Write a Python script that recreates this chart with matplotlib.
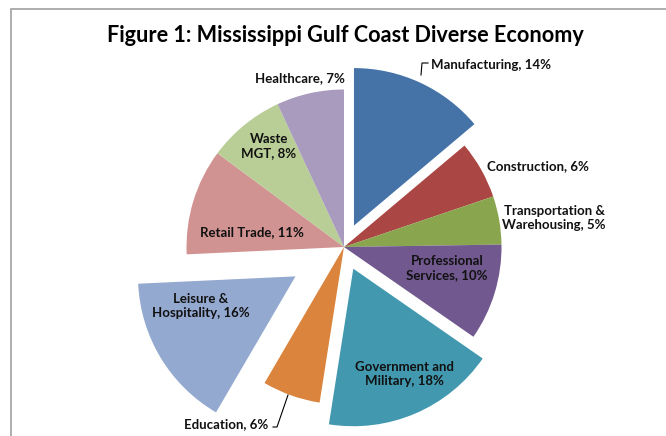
import matplotlib
matplotlib.use("Agg")
import matplotlib.pyplot as plt
from matplotlib.patches import Rectangle

categories = ["Manufacturing", "Construction", "Transportation &\nWarehousing",
              "Professional\nServices", "Government and\nMilitary", "Education",
              "Leisure &\nHospitality", "Retail Trade", "Waste\nMGT", "Healthcare"]
values = [14, 6, 5, 10, 18, 6, 16, 11, 8, 7]
explode = [0.15, 0, 0, 0, 0.15, 0, 0.36, 0, 0, 0]
colors = ["#4572A7", "#AA4643", "#89A54E", "#71588F", "#4198AF",
          "#DB843D", "#93A9CF", "#D19392", "#B9CD96", "#A99BBD"]
title = "Figure 1: Mississippi Gulf Coast Diverse Economy"

W, H = 666, 436
CX, CY, R = 344, 247, 157.5

def px(x, y):
    return ((x - CX) / R, (CY - y) / R)

plt.rcParams['font.family'] = ['Lato', 'DejaVu Sans']
fig = plt.figure(figsize=(W / 100, H / 100), dpi=100)
ax = fig.add_axes([0, 0, 1, 1])
ax.pie(values, explode=explode, colors=colors, startangle=90, counterclock=False,
       radius=1, center=(0, 0), wedgeprops=dict(linewidth=0))
x0, y0 = px(0, H)
x1, y1 = px(W, 0)
ax.set_xlim(x0, x1)
ax.set_ylim(y0, y1)
ax.set_aspect('equal')
ax.axis('off')

# frame border
bx, by = px(11, 9)
ax.add_patch(Rectangle((bx, y0 - 1), (x1 - bx) + 1, (by - y0) + 1, fill=False,
                       edgecolor="#A0A0A0", linewidth=1.2, clip_on=True))

tx, ty = px(345, 36)
ax.text(tx, ty, title, ha='center', va='center', fontsize=15.6, fontweight='bold')

label_pos = [(491, 65), (538, 166), (554, 218), (447, 268), (404, 374),
             (226, 424), (201, 306), (252, 232), (269, 146), (300, 78)]
for cat, v, (lx, ly) in zip(categories, values, label_pos):
    x, y = px(lx, ly)
    ax.text(x, y, f"{cat}, {v}%", ha='center', va='center', fontsize=9.5,
            fontweight='bold', linespacing=1.25, color='#111111')

# leader lines
def leader(pts):
    xs, ys = zip(*[px(a, b) for a, b in pts])
    ax.plot(xs, ys, color='black', linewidth=0.8)

leader([(421, 75), (422, 63), (428, 63)])
leader([(273, 427), (277, 427), (288, 395)])

fig.savefig("out.png", dpi=100)
